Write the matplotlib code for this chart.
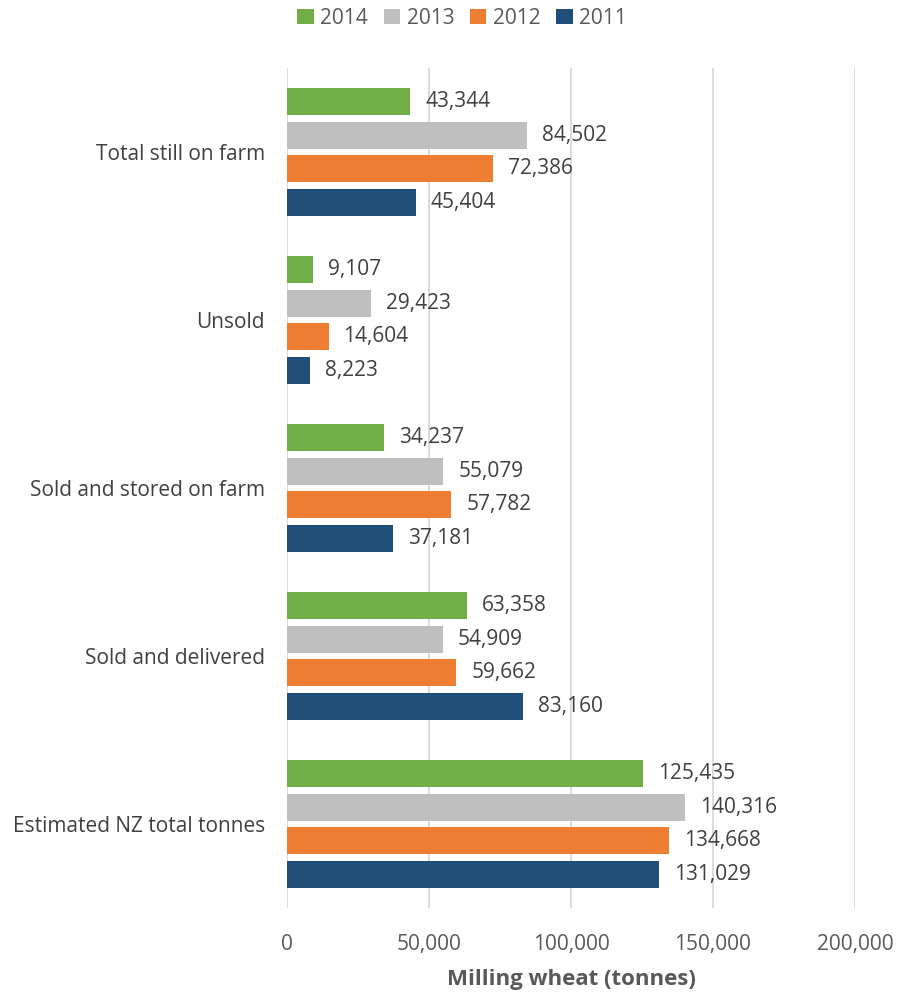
import matplotlib
matplotlib.use("Agg")
import matplotlib.pyplot as plt
import numpy as np

plt.rcParams['font.family'] = ['Open Sans', 'DejaVu Sans']

categories = ["Total still on farm", "Unsold", "Sold and stored on farm",
              "Sold and delivered", "Estimated NZ total tonnes"]
years = ["2014", "2013", "2012", "2011"]
values = {
    "2014": [43344, 9107, 34237, 63358, 125435],
    "2013": [84502, 29423, 55079, 54909, 140316],
    "2012": [72386, 14604, 57782, 59662, 134668],
    "2011": [45404, 8223, 37181, 83160, 131029],
}
colors = {"2014": "#70AD47", "2013": "#BFBFBF", "2012": "#ED7D31", "2011": "#1F4E79"}
offsets = [-0.3, -0.1, 0.1, 0.3]

fig = plt.figure(figsize=(8.97, 10), dpi=100)
ax = fig.add_axes([0.32, 0.092, 0.633, 0.84])

y = np.arange(len(categories))
for yr, off in zip(years, offsets):
    bars = ax.barh(y + off, values[yr], height=0.16, color=colors[yr], label=yr, zorder=3)
    for b, v in zip(bars, values[yr]):
        ax.text(v + 5300, b.get_y() + b.get_height() / 2, f"{v:,}",
                va='center', ha='left', fontsize=15, color='#404040')

ax.set_ylim(4.5, -0.5)
ax.set_xlim(0, 200000)
ax.set_xticks([0, 50000, 100000, 150000, 200000])
ax.set_xticklabels(["0", "50,000", "100,000", "150,000", "200,000"], fontsize=15, color='#595959')
ax.set_yticks(y)
ax.set_yticklabels(categories, fontsize=15, color='#404040')
ax.tick_params(axis='both', length=0)
ax.tick_params(axis='x', pad=19)
ax.tick_params(axis='y', pad=16)
ax.grid(axis='x', color='#D9D9D9', linewidth=1.3, zorder=0)
for s in ax.spines.values():
    s.set_visible(False)

ax.set_xlabel("Milling wheat (tonnes)", fontsize=16, fontweight='bold', color='#595959', labelpad=10)

fig.legend(loc='upper center', bbox_to_anchor=(0.515, 1.011), ncol=4, frameon=False,
           fontsize=15, handlelength=0.8, handleheight=0.8, handletextpad=0.3,
           columnspacing=0.75, labelcolor='#595959')

fig.savefig("out.png", dpi=100)
